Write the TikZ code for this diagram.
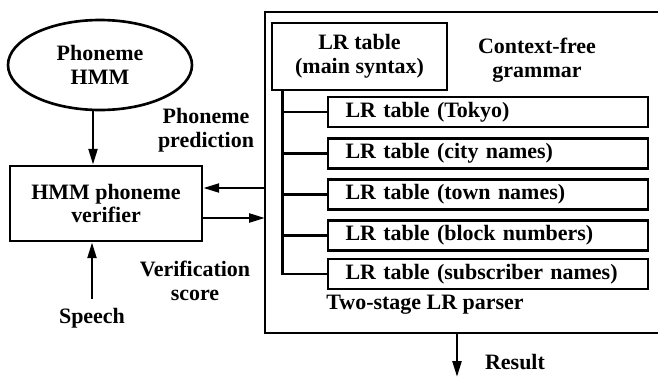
\documentclass[tikz,border=0pt]{standalone}
\usepackage{fontspec}
\setmainfont{Liberation Serif}
\usetikzlibrary{arrows.meta,shapes.geometric,calc}
\begin{document}
\begin{tikzpicture}[x=0.02cm,y=-0.02cm,
  every node/.style={font=\bfseries\fontsize{12.5}{13.6}\selectfont, inner sep=0pt},
  line/.style={line width=1.5pt},
  arr/.style={line width=1.5pt,-{Triangle[length=9pt,width=5pt]}},
  box/.style={draw,line width=1.5pt,rectangle},
  lrbox/.style={box,minimum width=6.4cm,minimum height=0.6cm,text width=5.7cm,align=left,inner xsep=0.35cm}]
\useasboundingbox (0,0) rectangle (658,379);
% left part
\node[draw,ellipse,line width=1.5pt,minimum width=3.68cm,minimum height=1.8cm,align=center] (hmm) at (100,65) {Phoneme\\HMM};
\node[box,minimum width=3.84cm,minimum height=1.5cm,align=center] (ver) at (106,203.5) {HMM phoneme\\verifier};
\node[align=center] (pred) at (206,130) {Phoneme\\prediction};
\node[align=center] (vs) at (195,281) {Verification\\score};
\node (speech) at (92,318) {Speech};
\draw[arr] ($(hmm.south)+(-7,0)$) -- ($(hmm.south |- ver.north)+(-7,0)$);
\draw[arr] ([yshift=5pt]speech.north) -- (speech.north |- ver.south);
% frame
\coordinate (ftr) at (658,12);
\coordinate (ftl) at (265,12);
\coordinate (fbl) at (265,333);
\coordinate (fbr) at (658,333);
\draw[line] (ftr) -- (ftl) -- (fbl) -- (fbr);
\coordinate (p1) at (265,188);
\coordinate (p2) at (265,218);
\draw[arr] (p1) -- (p1 -| ver.east);
\draw[arr] (p2 -| ver.east) -- (p2);
% parser content
\node[box,minimum width=3.5cm,minimum height=1.34cm,align=center] (main) at (359.5,56.5) {LR table\\(main syntax)};
\node[align=center] (cfg) at (537,60) {Context-free\\grammar};
\node[lrbox] (tok) at (488,112) {LR table (Tokyo)};
\node[lrbox] (city) at (488,153.5) {LR table (city names)};
\node[lrbox] (town) at (488,194.5) {LR table (town names)};
\node[lrbox] (block) at (488,235.5) {LR table (block numbers)};
\node[lrbox] (sub) at (488,274) {LR table (subscriber names)};
\coordinate (bus) at ($(main.south west)+(12,0)$);
\draw[line] (bus) |- (sub.west);
\draw[line] (bus |- tok.west) -- (tok.west);
\draw[line] (bus |- city.west) -- (city.west);
\draw[line] (bus |- town.west) -- (town.west);
\draw[line] (bus |- block.west) -- (block.west);
\node (tslr) at (425,305) {Two-stage LR parser};
% result
\coordinate (rs) at (457,333);
\coordinate (re) at (457,377);
\draw[arr] (rs) -- (re);
\node (res) at (515,362) {Result};
\end{tikzpicture}
\end{document}
